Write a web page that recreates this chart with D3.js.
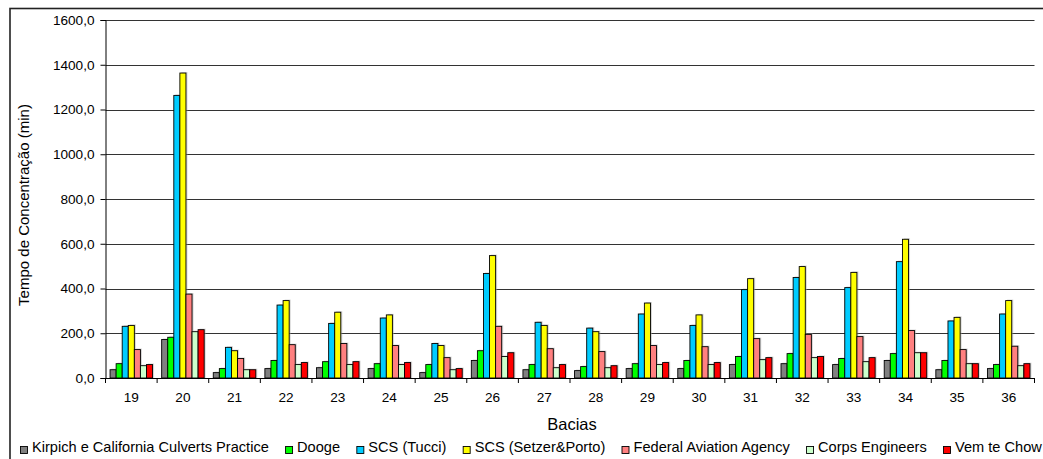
<!DOCTYPE html>
<html>
<head>
<meta charset="utf-8">
<script src="https://cdn.jsdelivr.net/npm/d3@7"></script>
<style>
  html, body { margin: 0; padding: 0; background: #fff; }
  svg { display: block; font-family: "Liberation Sans", Arial, sans-serif; }
  svg text { font-family: "Liberation Sans", Arial, sans-serif; }
</style>
</head>
<body>
<svg id="chart" width="1043" height="459"></svg>
<script>
// Basins (x categories)
const bacias = ["19","20","21","22","23","24","25","26","27","28","29","30","31","32","33","34","35","36"];

// Concentration time (min) by method
const kirpich   = [37, 172, 24, 42, 46, 42, 24, 78, 37, 33, 42, 42, 60, 64, 60, 78, 37, 42];
const dooge     = [64, 182, 42, 78, 73, 64, 60, 122, 60, 51, 64, 78, 96, 109, 87, 109, 78, 60];
const scsTucci  = [231, 1263, 137, 326, 244, 268, 154, 467, 249, 223, 286, 235, 395, 449, 404, 520, 255, 286];
const scsSetzer = [235, 1363, 122, 346, 294, 282, 145, 547, 235, 207, 335, 282, 444, 498, 472, 620, 271, 346];
const faa       = [127, 375, 87, 149, 154, 145, 91, 231, 131, 118, 145, 140, 176, 195, 185, 212, 127, 142];
const corps     = [55, 207, 37, 60, 60, 60, 37, 96, 46, 46, 60, 60, 82, 91, 73, 113, 64, 55];
const venTeChow = [60, 216, 37, 69, 73, 69, 42, 113, 60, 55, 69, 69, 91, 96, 91, 113, 64, 64];

const seriesNames = [
  "Kirpich e California Culverts Practice",
  "Dooge",
  "SCS (Tucci)",
  "SCS (Setzer&Porto)",
  "Federal Aviation Agency",
  "Corps Engineers",
  "Vem te Chow"
];
const seriesValues = [kirpich, dooge, scsTucci, scsSetzer, faa, corps, venTeChow];
const seriesColors = ["#808080", "#00ff00", "#00ccff", "#ffff00", "#ff8080", "#ccffcc", "#ff0000"];

const yTicks = [0, 200, 400, 600, 800, 1000, 1200, 1400, 1600];

const svg = d3.select("#chart");

// Plot area
const plot = { left: 105.5, right: 1034.5, top: 20, bottom: 378 };

// Outer chart frame
svg.append("rect")
  .attr("x", 10).attr("y", 8.5)
  .attr("width", 1050).attr("height", 470)
  .attr("fill", "none").attr("stroke", "#222").attr("stroke-width", 1.6);

const x = d3.scaleBand().domain(bacias).range([plot.left, plot.right]).padding(0);
const xi = d3.scaleBand().domain(d3.range(seriesNames.length))
  .range([0, x.bandwidth()]).paddingInner(0).paddingOuter(0.75);
const y = d3.scaleLinear().domain([0, 1600]).range([plot.bottom, plot.top]);

const fmt = v => d3.format(".1f")(v).replace(".", ",");

// Horizontal gridlines
svg.append("g").selectAll("line")
  .data(yTicks.filter(t => t > 0))
  .join("line")
  .attr("x1", plot.left).attr("x2", plot.right)
  .attr("y1", d => Math.round(y(d)) + 0.5).attr("y2", d => Math.round(y(d)) + 0.5)
  .attr("stroke", "#333").attr("stroke-width", 1);

// Bars
const groups = svg.append("g").selectAll("g")
  .data(bacias)
  .join("g")
  .attr("transform", d => `translate(${x(d)},0)`);

groups.each(function(cat, ci) {
  const g = d3.select(this);
  const bars = seriesValues.map((vals, si) => ({ si, v: vals[ci] }));
  // soft drop shadow
  g.selectAll("rect.shadow").data(bars).join("rect")
    .attr("class", "shadow")
    .attr("x", d => xi(d.si) + 1.5)
    .attr("y", d => y(d.v) - 1)
    .attr("width", xi.bandwidth())
    .attr("height", d => plot.bottom - y(d.v) + 1)
    .attr("fill", "#aaa").attr("opacity", 0.5);
  g.selectAll("rect.bar").data(bars).join("rect")
    .attr("class", "bar")
    .attr("x", d => xi(d.si))
    .attr("y", d => y(d.v))
    .attr("width", xi.bandwidth())
    .attr("height", d => plot.bottom - y(d.v))
    .attr("fill", d => seriesColors[d.si])
    .attr("stroke", "#000").attr("stroke-width", 0.9);
});

// Y axis
const yAxis = d3.axisLeft(y).tickValues(yTicks).tickSize(5).tickPadding(6).tickFormat(fmt);
const gy = svg.append("g").attr("transform", `translate(${plot.left},0)`).call(yAxis)
  .attr("font-family", null).attr("font-size", null);
gy.select(".domain").attr("stroke", "#000");
gy.selectAll(".tick line").attr("stroke", "#000");
gy.selectAll("text").attr("font-size", 13.6).attr("fill", "#000");

// X axis with ticks between categories
svg.append("line")
  .attr("x1", plot.left).attr("x2", plot.right)
  .attr("y1", plot.bottom + 0.5).attr("y2", plot.bottom + 0.5)
  .attr("stroke", "#000");
svg.append("g").selectAll("line")
  .data(bacias.concat([null]))
  .join("line")
  .attr("x1", (d, i) => i < bacias.length ? x(d) : plot.right)
  .attr("x2", (d, i) => i < bacias.length ? x(d) : plot.right)
  .attr("y1", plot.bottom).attr("y2", plot.bottom + 5)
  .attr("stroke", "#000");
svg.append("g").selectAll("text")
  .data(bacias)
  .join("text")
  .attr("x", d => x(d) + x.bandwidth() / 2)
  .attr("y", 402)
  .attr("text-anchor", "middle")
  .attr("font-size", 13.6)
  .text(d => d);

// Axis titles
svg.append("text")
  .attr("transform", "translate(29,205) rotate(-90)")
  .attr("text-anchor", "middle")
  .attr("font-size", 15)
  .text("Tempo de Concentração (min)");
svg.append("text")
  .attr("x", 572).attr("y", 430)
  .attr("text-anchor", "middle")
  .attr("font-size", 16.5)
  .text("Bacias");

// Legend
const legend = svg.append("g");
const items = legend.selectAll("g").data(seriesNames).join("g");
items.append("rect")
  .attr("width", 7).attr("height", 7)
  .attr("y", 446.5)
  .attr("fill", (d, i) => seriesColors[i])
  .attr("stroke", "#000").attr("stroke-width", 0.9);
items.append("text")
  .attr("x", 11.5).attr("y", 452)
  .attr("font-size", 14.6)
  .text(d => d);
const widths = [];
items.each(function() { widths.push(d3.select(this).select("text").node().getComputedTextLength()); });
const startX = 20.5, lastX = 943.5;
const used = widths.slice(0, -1).reduce((a, w) => a + 11.5 + w, 0);
const gap = (lastX - startX - used) / (seriesNames.length - 1);
let cx = startX;
items.each(function(d, i) {
  d3.select(this).attr("transform", `translate(${cx},0)`);
  cx += 11.5 + widths[i] + gap;
});
</script>
</body>
</html>
